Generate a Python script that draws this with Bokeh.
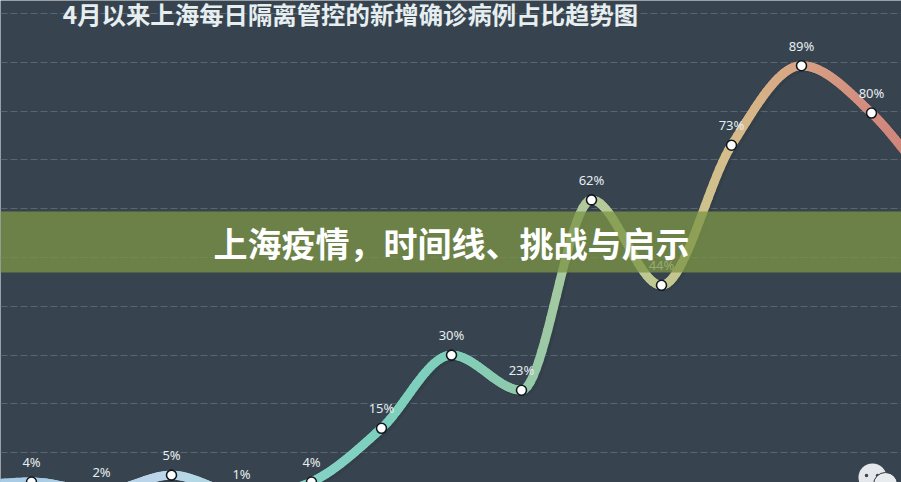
import numpy as np
from bokeh.plotting import figure, ColumnDataSource
from bokeh.models import BoxAnnotation, Label, FixedTicker
from bokeh.core.properties import value
from bokeh.embed import file_html
from bokeh.resources import INLINE

# ---- data ----
positions = [-1, 0, 1, 2, 3, 4, 5, 6, 7, 8, 9, 10, 11, 12, 13]
shares = [3.0, 4.0, 2.0, 5.4, 1.6, 4.0, 15.0, 30.0, 22.8, 61.8, 44.3, 73.0, 89.3, 79.6, 62.0]
point_labels = ["", "4%", "2%", "5%", "1%", "4%", "15%", "30%", "23%", "62%", "44%", "73%", "89%", "80%", ""]
line_colors = ["#a8cce6", "#a8cce6", "#b4d2e8", "#bcd6ea", "#a8d8dc", "#86d2c6", "#7dd0be", "#7fcfbc",
               "#90c9aa", "#b4c99a", "#bfc990", "#d6bd8a", "#d8a384", "#d28c7e", "#cc7f78"]
grid_values = [10, 20, 30, 40, 50, 60, 70, 80, 90, 100]
title_text = "4月以来上海每日隔离管控的新增确诊病例占比趋势图"
banner_text = "上海疫情，时间线、挑战与启示"

W, H = 901, 482
BG = "#37444f"
x0, dx = 31, 70        # reference pixel of position 0 and step
v0, dv = 501, 4.88     # reference pixel of 0 % and px per %


def px_x(px):
    return (px - x0) / dx


def px_y(py):
    return (v0 - py) / dv


p = figure(width=W, height=H, output_backend="svg", toolbar_location=None,
           x_range=(px_x(0), px_x(901)), y_range=(px_y(482), px_y(0)),
           min_border=0, background_fill_color=BG, border_fill_color=BG)
p.outline_line_color = None
p.xaxis.visible = False
p.yaxis.visible = False
p.xgrid.visible = False
p.ygrid.ticker = FixedTicker(ticks=grid_values)
p.ygrid.grid_line_color = "#586671"
p.ygrid.grid_line_dash = "7 3"
p.ygrid.grid_line_width = 1


# ---- smooth curve through the points ----
xs = np.array(positions, float)
ys = np.array(shares, float)
tan = np.zeros_like(ys)
for i in range(1, len(ys) - 1):
    a, b = ys[i] - ys[i - 1], ys[i + 1] - ys[i]
    tan[i] = 0 if a * b <= 0 else (a + b) / 2
tan[0], tan[-1] = ys[1] - ys[0], ys[-1] - ys[-2]


def hex_rgb(c):
    return np.array([int(c[k:k + 2], 16) for k in (1, 3, 5)], float)


seg_x, seg_y, seg_c = [], [], []
N = 24
for i in range(len(ys) - 1):
    t = np.linspace(0, 1, N + 1)
    h00 = 2 * t**3 - 3 * t**2 + 1
    h10 = t**3 - 2 * t**2 + t
    h01 = -2 * t**3 + 3 * t**2
    h11 = t**3 - t**2
    cy = h00 * ys[i] + h10 * tan[i] + h01 * ys[i + 1] + h11 * tan[i + 1]
    cx = xs[i] + t
    c0, c1 = hex_rgb(line_colors[i]), hex_rgb(line_colors[i + 1])
    for k in range(N):
        seg_x.append([cx[k], cx[k + 1]])
        seg_y.append([cy[k], cy[k + 1]])
        m = c0 + (c1 - c0) * (k + 0.5) / N
        seg_c.append("#%02x%02x%02x" % tuple(int(round(q)) for q in m))

# dark drop shadow, shifted down and to the right
shift_x, shift_y = 2.5 / dx, 2.0 / dv
p.multi_line([[a + shift_x for a in s] for s in seg_x], [[b - shift_y for b in s] for s in seg_y],
             line_color="#1c262e", line_width=9.5, line_alpha=0.14, line_cap="butt")
p.multi_line(seg_x, seg_y, line_color=seg_c, line_width=9, line_cap="round")

src = ColumnDataSource(dict(x=positions, y=shares, label=point_labels))
p.scatter("x", "y", source=src, size=10, fill_color="#ffffff", line_color="#10181e", line_width=1.6)
p.text("x", "y", text="label", source=src, text_color="#e6edf1", text_font=value("Noto Sans"),
       text_font_size="13px", text_align="center", text_baseline="middle", y_offset=-20)

# ---- watermark (WeChat faces) ----
p.scatter([px_x(872)], [px_y(477)], size=28, fill_color="#e4e8ea", line_color=None)
p.scatter([px_x(866), px_x(877)], [px_y(475), px_y(475)], size=3.5, fill_color="#37444f", line_color=None)
p.scatter([px_x(885)], [px_y(484)], size=24, fill_color="#e8ecee", line_color="#2c3740", line_width=1)

# ---- title ----
p.add_layout(Label(x=px_x(350), y=px_y(13), text=title_text, text_color="#e6eef0",
                   text_font="Noto Sans CJK SC", text_font_style="bold", text_font_size="24.4px",
                   text_align="center", text_baseline="alphabetic"))

# ---- banner ----
p.add_layout(BoxAnnotation(left=px_x(0), right=px_x(901), bottom=px_y(272), top=px_y(211),
                           fill_color="#7c9445", fill_alpha=0.76, line_color=None))
p.add_layout(Label(x=px_x(451), y=px_y(242), text=banner_text, text_color="#ffffff",
                   text_font="Noto Sans CJK SC", text_font_style="bold", text_font_size="34px",
                   text_align="center", text_baseline="middle"))

open("out.html", "w").write(file_html(p, INLINE))
